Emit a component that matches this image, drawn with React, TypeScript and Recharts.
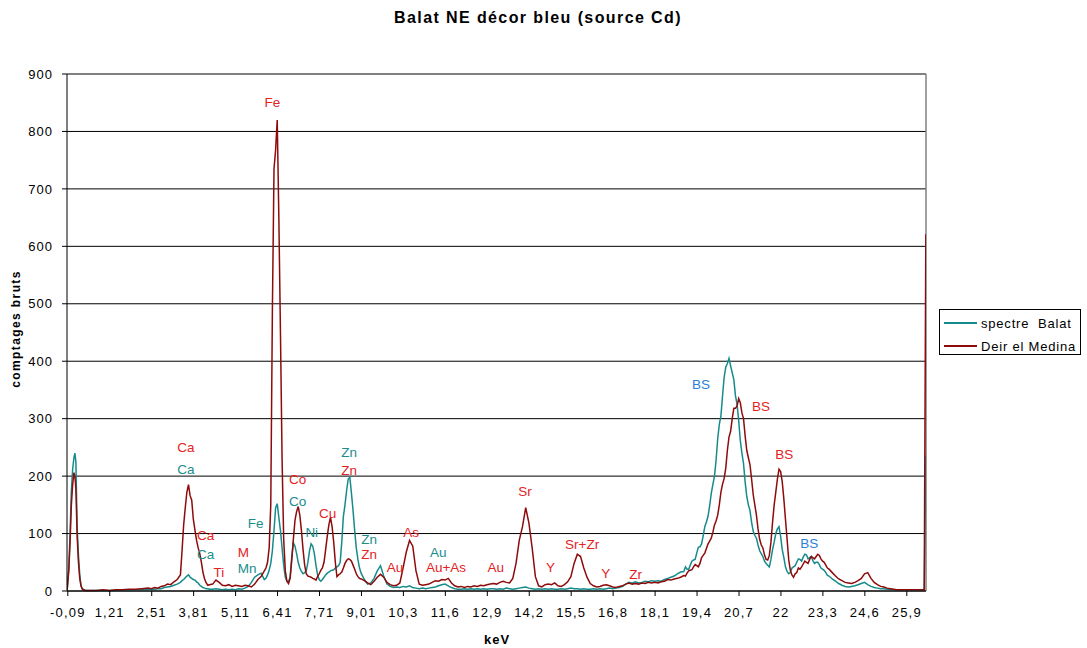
import { LineChart, Line, XAxis, YAxis, CartesianGrid, ReferenceLine, ReferenceDot } from 'recharts'

// energy channels (keV), denser around the peaks
const kev = [
  -0.11, -0.06, -0.02, 0.02, 0.06, 0.1, 0.13, 0.16, 0.2, 0.24, 0.28, 0.32, 0.36, 0.45,
  0.6, 0.8, 1.0, 1.2, 1.4, 1.6, 1.8, 2.0, 2.2, 2.4,
  2.5, 2.6, 2.7, 2.8, 2.9, 3.0, 3.1, 3.2, 3.3, 3.4,
  3.45, 3.5, 3.55, 3.6, 3.65, 3.7, 3.75, 3.8, 3.85, 3.9, 3.95, 4.0, 4.05, 4.1, 4.15, 4.2, 4.25, 4.3,
  4.4, 4.5, 4.6, 4.7, 4.8, 4.9, 5.0, 5.1, 5.2, 5.3, 5.4, 5.5, 5.6, 5.7, 5.8, 5.9, 6.0,
  6.05, 6.1, 6.15, 6.2, 6.25, 6.3, 6.35, 6.4, 6.45, 6.5,
  6.55, 6.6, 6.65, 6.7, 6.75, 6.8, 6.85, 6.9, 6.95, 7.0,
  7.05, 7.1, 7.15, 7.2, 7.25, 7.3, 7.35, 7.4, 7.45, 7.5,
  7.55, 7.6, 7.65, 7.7, 7.75, 7.8, 7.85, 7.9, 7.95, 8.0,
  8.05, 8.1, 8.15, 8.2, 8.25, 8.3, 8.35, 8.4, 8.45, 8.5,
  8.55, 8.6, 8.65, 8.7, 8.75, 8.8, 8.85, 8.9, 8.95, 9.0,
  9.1, 9.2, 9.3, 9.4, 9.5, 9.6, 9.7, 9.8, 9.9, 10.0,
  10.1, 10.2, 10.3, 10.4, 10.5, 10.6, 10.7, 10.8, 10.9, 11.0,
  11.1, 11.2, 11.3, 11.4, 11.5, 11.6, 11.7, 11.8, 11.9, 12.0,
  12.1, 12.2, 12.3, 12.4, 12.5, 12.6, 12.7, 12.8, 12.9, 13.0,
  13.1, 13.2, 13.3, 13.4, 13.5, 13.6, 13.7, 13.8, 13.9, 14.0,
  14.1, 14.2, 14.3, 14.4, 14.5, 14.6, 14.7, 14.8, 14.9, 15.0,
  15.1, 15.2, 15.3, 15.4, 15.5, 15.6, 15.7, 15.8, 15.9, 16.0,
  16.1, 16.2, 16.3, 16.4, 16.5, 16.6, 16.7, 16.8, 16.9, 17.0,
  17.1, 17.2, 17.3, 17.4, 17.5, 17.6, 17.7, 17.8, 17.9, 18.0,
  18.1, 18.2, 18.3, 18.4, 18.5, 18.6, 18.7, 18.8, 18.9, 19.0,
  19.05, 19.1, 19.15, 19.2, 19.25, 19.3, 19.35, 19.4, 19.45, 19.5, 19.55, 19.6, 19.65, 19.7, 19.75, 19.8, 19.85, 19.9, 19.95, 20.0,
  20.05, 20.1, 20.15, 20.2, 20.25, 20.3, 20.35, 20.4, 20.45, 20.5, 20.55, 20.6, 20.65, 20.7, 20.75, 20.8, 20.85, 20.9, 20.95, 21.0,
  21.05, 21.1, 21.15, 21.2, 21.25, 21.3, 21.35, 21.4, 21.45, 21.5, 21.55, 21.6, 21.65, 21.7, 21.75, 21.8, 21.85, 21.9, 21.95, 22.0,
  22.05, 22.1, 22.15, 22.2, 22.25, 22.3, 22.35, 22.4, 22.45, 22.5, 22.55, 22.6, 22.65, 22.7, 22.75, 22.8, 22.85, 22.9, 22.95, 23.0,
  23.05, 23.1, 23.15, 23.2, 23.25, 23.3, 23.35, 23.4, 23.45, 23.5,
  23.6, 23.7, 23.8, 23.9, 24.0,
  24.1, 24.2, 24.3, 24.4, 24.5, 24.6, 24.7, 24.8, 24.9, 25.0,
  25.1, 25.2, 25.3, 25.4, 25.5, 25.6, 25.7, 25.8, 25.9, 26.0,
  26.1, 26.2, 26.3, 26.4,
  26.45, 26.5,
]

// spectre Balat
const balat = [
  2, 40, 100, 175, 212, 232, 240, 225, 110, 62, 28, 10, 4, 1,
  1, 1, 1, 1, 1, 2, 1, 2, 2, 3,
  2, 3, 4, 4, 6, 7, 8, 10, 12, 15,
  18, 20, 23, 26, 28, 24, 22, 20, 19, 16, 14, 10, 8, 6, 5, 4, 4, 3,
  3, 4, 3, 2, 3, 2, 3, 2, 4, 3, 5, 8, 15, 24, 28, 31, 20,
  22, 28, 36, 48, 70, 105, 145, 152, 128, 105,
  75, 45, 24, 17, 16, 25, 60, 84, 78, 65,
  50, 40, 34, 30, 32, 35, 50, 70, 82, 78,
  65, 45, 28, 20, 17, 20, 24, 28, 31, 33,
  35, 36, 37, 40, 42, 44, 50, 85, 130, 150,
  175, 195, 198, 170, 140, 105, 75, 55, 40, 31,
  20, 12, 14, 22, 35, 44, 26, 12, 8, 6,
  7, 6, 8, 7, 9, 6, 5, 4, 5, 4,
  5, 6, 7, 9, 11, 12, 9, 6, 4, 3,
  3, 4, 3, 4, 3, 4, 3, 4, 3, 4,
  4, 3, 4, 3, 5, 4, 3, 4, 5, 6,
  7, 5, 4, 3, 4, 3, 4, 3, 4, 3,
  3, 4, 3, 4, 5, 4, 4, 3, 4, 3,
  3, 4, 3, 4, 3, 4, 5, 4, 5, 6,
  8, 12, 15, 14, 16, 14, 15, 17, 16, 18,
  17, 18, 17, 20, 22, 24, 26, 30, 33, 34,
  42, 38, 38, 45, 52, 54, 55, 66, 76, 77, 82, 96, 112, 120, 130, 148, 170, 185, 200, 228,
  265, 290, 305, 340, 372, 390, 396, 405, 392, 380, 368, 340, 325, 297, 262, 240, 222, 190, 165, 150,
  140, 120, 104, 97, 92, 80, 70, 65, 60, 52, 48, 45, 42, 55, 72, 85, 100, 108, 112, 95,
  72, 58, 42, 34, 30, 32, 40, 42, 44, 50, 56, 55, 52, 59, 64, 63, 56, 58, 60, 53,
  48, 50, 50, 46, 40, 38, 36, 32, 27, 26,
  21, 17, 13, 10, 8,
  7, 8, 9, 11, 13, 15, 11, 8, 6, 5,
  4, 4, 3, 3, 2, 2, 2, 2, 2, 2,
  2, 2, 2, 2,
  2, 236,
]

// Deir el Medina
const deirElMedina = [
  2, 35, 85, 150, 185, 206, 200, 178, 95, 50, 22, 8, 3, 1,
  1, 1, 2, 1, 2, 2, 3, 3, 4, 5,
  4, 6, 5, 8, 9, 12, 11, 16, 20, 28,
  70, 115, 145, 172, 185, 166, 158, 125, 106, 88, 75, 65, 50, 32, 21, 14, 10, 11,
  12, 19, 15, 10, 9, 11, 8, 10, 9, 8, 10, 9, 7, 12, 20, 25, 35,
  40, 50, 75, 150, 490, 735, 768, 820, 650, 450,
  230, 90, 35, 17, 13, 22, 53, 90, 123, 138,
  147, 132, 105, 72, 45, 30, 26, 25, 24, 22,
  21, 19, 25, 30, 36, 40, 50, 72, 95, 115,
  128, 112, 85, 50, 25, 28, 30, 33, 40, 48,
  53, 56, 55, 52, 45, 38, 30, 25, 22, 21,
  18, 14, 11, 17, 24, 29, 24, 15, 11, 9,
  10, 14, 40, 68, 88, 78, 35, 12, 10, 11,
  12, 15, 18, 17, 20, 19, 22, 14, 9, 7,
  8, 6, 8, 7, 9, 8, 10, 9, 11, 12,
  13, 12, 15, 17, 15, 14, 22, 48, 88, 112,
  145, 118, 75, 25, 9, 7, 11, 12, 11, 14,
  9, 8, 11, 16, 25, 48, 64, 60, 40, 24,
  13, 9, 7, 8, 10, 11, 9, 7, 6, 8,
  9, 12, 14, 12, 13, 12, 14, 13, 15, 14,
  15, 14, 16, 17, 20, 19, 21, 22, 24, 27,
  26, 31, 35, 36, 37, 42, 46, 44, 42, 48, 58, 62, 66, 74, 82, 87, 92, 102, 115, 122,
  132, 150, 172, 186, 196, 214, 245, 268, 278, 300, 318, 318, 322, 335, 328, 310, 300, 270, 245, 232,
  220, 195, 168, 150, 132, 108, 90, 80, 75, 63, 55, 54, 62, 85, 120, 150, 172, 195, 212, 208,
  190, 160, 125, 90, 55, 36, 28, 24, 30, 32, 40, 38, 42, 47, 52, 50, 48, 55, 60, 58,
  56, 60, 64, 62, 56, 52, 50, 45, 40, 38,
  32, 26, 21, 18, 15,
  14, 13, 15, 18, 22, 30, 32, 22, 15, 11,
  8, 7, 5, 4, 3, 2, 2, 2, 2, 2,
  2, 2, 2, 2,
  2, 621,
]

const xTicks = [-0.09, 1.21, 2.51, 3.81, 5.11, 6.41, 7.71, 9.01, 10.31, 11.61, 12.91, 14.21, 15.51, 16.81, 18.11, 19.41, 20.71, 22.01, 23.31, 24.61, 25.91]
const xTickLabels = ['-0,09', '1,21', '2,51', '3,81', '5,11', '6,41', '7,71', '9,01', '10,3', '11,6', '12,9', '14,2', '15,5', '16,8', '18,1', '19,4', '20,7', '22', '23,3', '24,6', '25,9']
const yTicks = [0, 100, 200, 300, 400, 500, 600, 700, 800, 900]

// element labels: [text, keV, counts, colour key]
const peakLabels: [string, number, number, string][] = [
  ['Fe', 6.25, 850, 'r'],
  ['Ca', 3.57, 251, 'r'],
  ['Ca', 3.57, 212, 't'],
  ['Ca', 4.18, 97, 'r'],
  ['Ca', 4.18, 64, 't'],
  ['Ti', 4.59, 33, 'r'],
  ['M', 5.35, 68, 'r'],
  ['Mn', 5.47, 40, 't'],
  ['Fe', 5.73, 118, 't'],
  ['Co', 7.03, 195, 'r'],
  ['Co', 7.03, 156, 't'],
  ['Ni', 7.47, 103, 't'],
  ['Cu', 7.96, 135, 'r'],
  ['Zn', 8.63, 241, 't'],
  ['Zn', 8.63, 211, 'r'],
  ['Zn', 9.25, 90, 't'],
  ['Zn', 9.25, 64, 'r'],
  ['Au', 10.05, 41, 'r'],
  ['As', 10.55, 102, 'r'],
  ['Au', 11.39, 67, 't'],
  ['Au+As', 11.63, 42, 'r'],
  ['Au', 13.17, 42, 'r'],
  ['Sr', 14.08, 174, 'r'],
  ['Y', 14.87, 42, 'r'],
  ['Sr+Zr', 15.85, 81, 'r'],
  ['Y', 16.58, 30, 'r'],
  ['Zr', 17.51, 29, 'r'],
  ['BS', 19.53, 359, 'b'],
  ['BS', 21.39, 322, 'r'],
  ['BS', 22.11, 238, 'r'],
  ['BS', 22.89, 83, 'b'],
]

const labelColors: Record<string, string> = { r: '#e3231f', t: '#1a8d8d', b: '#2c7fd6' }
const tealLine = '#178b8b'
const redLine = '#8e0b0b'
const font = '"Liberation Sans", Arial, sans-serif'

const rows = kev.map((k, i) => ({ kev: k, balat: balat[i], deir: deirElMedina[i] }))

function XTick(props: any) {
  const { x, y, payload, index } = props
  const label = xTickLabels[index] ?? String(payload.value)
  return (
    <text x={x} y={y} dy="0.71em" textAnchor="middle" fontSize={13} letterSpacing={1.2} fill="#000" fontFamily={font}>
      {label}
    </text>
  )
}

function YTick(props: any) {
  const { x, y, payload } = props
  return (
    <text x={x} y={y} dy="0.355em" textAnchor="end" fontSize={13} letterSpacing={1} fill="#000" fontFamily={font}>
      {payload.value}
    </text>
  )
}

export default function App() {
  return (
    <div style={{ position: 'absolute', left: 0, top: 0, width: 1087, height: 648, background: '#fff', fontFamily: font }}>
      <div style={{ position: 'absolute', left: 0, top: 9, width: 1076, textAlign: 'center', fontWeight: 'bold', fontSize: 16, letterSpacing: 1.4 }}>
        Balat NE décor bleu (source Cd)
      </div>
      <div style={{ position: 'absolute', left: 16 - 100, top: 322, width: 200, textAlign: 'center', fontWeight: 'bold', fontSize: 12, letterSpacing: 1.4, transform: 'rotate(-90deg)' }}>
        comptages bruts
      </div>
      <div style={{ position: 'absolute', left: 447, top: 632, width: 100, textAlign: 'center', fontWeight: 'bold', fontSize: 13, letterSpacing: 1 }}>
        keV
      </div>

      <LineChart width={1087} height={648} data={rows} margin={{ top: 74, right: 161, bottom: 27, left: 8 }}>
        <CartesianGrid vertical={false} stroke="#000" strokeWidth={1} />
        <XAxis
          dataKey="kev"
          type="number"
          domain={[-0.115, 26.505]}
          allowDataOverflow
          ticks={xTicks}
          interval={0}
          height={30}
          tickSize={5}
          tickMargin={12}
          stroke="#000"
          tick={<XTick />}
        />
        <YAxis
          type="number"
          domain={[0, 900]}
          ticks={yTicks}
          interval={0}
          width={59}
          tickSize={5}
          tickMargin={9}
          stroke="#000"
          tick={<YTick />}
        />
        <ReferenceLine y={900} stroke="#808080" strokeWidth={1.5} />
        <ReferenceLine x={26.505} stroke="#808080" strokeWidth={1.5} />
        <Line type="linear" dataKey="balat" stroke={tealLine} strokeWidth={1.5} dot={false} isAnimationActive={false} />
        <Line type="linear" dataKey="deir" stroke={redLine} strokeWidth={1.5} dot={false} isAnimationActive={false} />
        {peakLabels.map(([text, x, y, c], i) => (
          <ReferenceDot
            key={i}
            x={x}
            y={y}
            r={0}
            shape={(p: any) => (
              <text x={p.cx} y={p.cy} dy="0.35em" textAnchor="middle" fontSize={13.5} fill={labelColors[c]} fontFamily={font}>
                {text}
              </text>
            )}
          />
        ))}
      </LineChart>

      <div style={{ position: 'absolute', left: 939, top: 309, width: 142, height: 46, boxSizing: 'border-box', border: '1px solid #000', background: '#fff' }}>
        {[
          { name: 'spectre\u00a0 Balat', color: tealLine, top: 5 },
          { name: 'Deir el Medina', color: redLine, top: 28 },
        ].map((e) => (
          <div key={e.name} style={{ position: 'absolute', left: 4, top: e.top, height: 16, display: 'flex', alignItems: 'center' }}>
            <div style={{ width: 33, height: 2, background: e.color }} />
            <span style={{ marginLeft: 4, fontSize: 13, letterSpacing: 0.8, whiteSpace: 'nowrap' }}>{e.name}</span>
          </div>
        ))}
      </div>
    </div>
  )
}
